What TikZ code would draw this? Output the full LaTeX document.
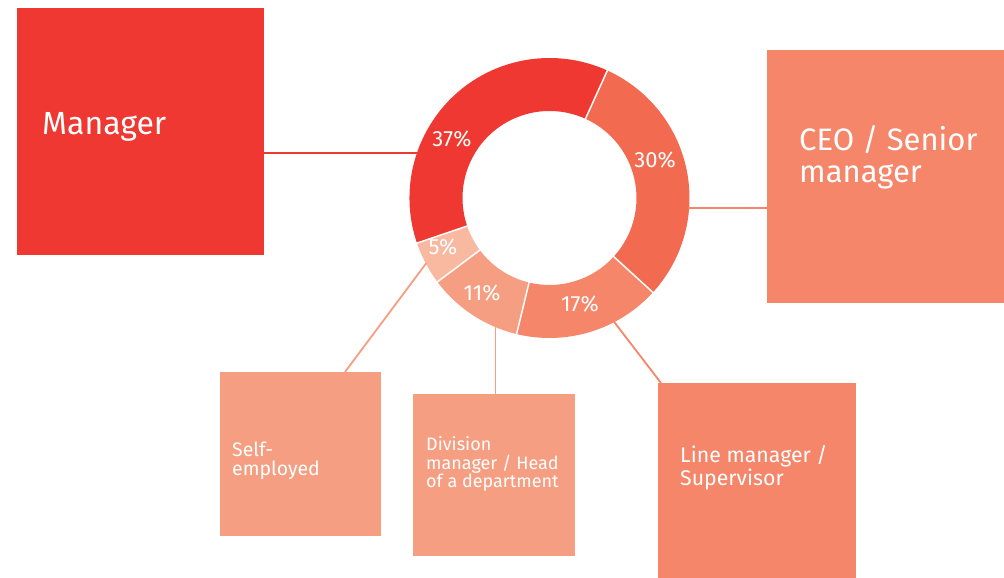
\documentclass[tikz,border=0pt]{standalone}
\usepackage{fontspec}
\setmainfont{Fira Sans}
\usetikzlibrary{calc}
\definecolor{cred}{HTML}{EE3831}
\definecolor{cthirty}{HTML}{F26A50}
\definecolor{cseventeen}{HTML}{F5866A}
\definecolor{celeven}{HTML}{F59E82}
\definecolor{cfive}{HTML}{F9B8A0}
\begin{document}
\begin{tikzpicture}[x=1pt,y=1pt,
  box/.style={rectangle, inner sep=0pt, outer sep=0pt},
  lbl/.style={text=white, anchor=base west, inner sep=0pt, align=left},
  pct/.style={text=white, font=\fontsize{22}{26}\selectfont, inner sep=0pt},
  conn/.style={line width=1.8pt}]
\useasboundingbox (0,0) rectangle (1004,578);
\coordinate (c) at (549.5,380);
% donut
\foreach \a/\b/\col in {65.6/-42.4/cthirty, -42.4/-103.6/cseventeen, -103.6/-143.2/celeven, -143.2/-161.2/cfive, -161.2/-294.4/cred}{
  \fill[\col] ($(c)+(\a:140)$) arc[start angle=\a, end angle=\b, radius=140] -- ($(c)+(\b:87)$) arc[start angle=\b, end angle=\a, radius=87] -- cycle;
}
\foreach \a in {65.6,-42.4,-103.6,-143.2,-161.2}
  \draw[white, line width=1.5pt] ($(c)+(\a:86)$) -- ($(c)+(\a:141)$);
% percentages
\node[pct] (p37) at (452,439) {37\%};
\node[pct] (p30) at (655,417.5) {30\%};
\node[pct] (p5) at (443,330.5) {5\%};
\node[pct] (p11) at (482,285) {11\%};
\node[pct] (p17) at (580,273.5) {17\%};
% boxes
\node[box, fill=cred, minimum width=247pt, minimum height=247pt] (manager) at (140.5,446.5) {};
\node[box, fill=cseventeen, minimum width=237pt, minimum height=253pt] (ceo) at (885.5,401.5) {};
\node[box, fill=celeven, minimum width=161pt, minimum height=164pt] (self) at (300.5,124) {};
\node[box, fill=celeven, minimum width=162pt, minimum height=162pt] (division) at (494,103) {};
\node[box, fill=cseventeen, minimum width=198pt, minimum height=195pt] (line) at (757,97.5) {};
% labels (base anchor = last line)
\node[lbl, font=\fontsize{32}{36}\selectfont] (managerlbl) at (42,443) {Manager};
\node[lbl, font=\fontsize{31}{32}\selectfont] (ceolbl) at (799,395) {CEO / Senior\\manager};
\node[lbl, font=\fontsize{19.5}{19}\selectfont] (selflbl) at (232,102) {Self-\\employed};
\node[lbl, font=\fontsize{18}{18.5}\selectfont] (divisionlbl) at (426,90) {Division\\manager / Head\\of a department};
\node[lbl, font=\fontsize{21.3}{22.7}\selectfont] (linelbl) at (680,92.3) {Line manager /\\Supervisor};
% ring anchor points
\coordinate (pm) at ($(c)+(161.25:139)$);
\coordinate (pc) at ($(c)+(-4.1:139)$);
\coordinate (ps) at ($(c)+(-152.2:139)$);
\coordinate (pd) at ($(c)+(-112.9:139)$);
\coordinate (pl) at ($(c)+(-62.5:139)$);
\coordinate (st) at ($(self.north west)+(125,0)$);
\coordinate (lt) at ($(line.north west)+(3,0)$);
% connectors
\draw[conn, cred] (manager.east |- pm) -- (pm);
\draw[conn, cseventeen] (pc) -- (ceo.west |- pc);
\draw[conn, celeven] (ps) -- (st);
\draw[conn, celeven] (pd) -- (pd |- division.north);
\draw[conn, cseventeen] (pl) -- (lt);
\end{tikzpicture}
\end{document}
